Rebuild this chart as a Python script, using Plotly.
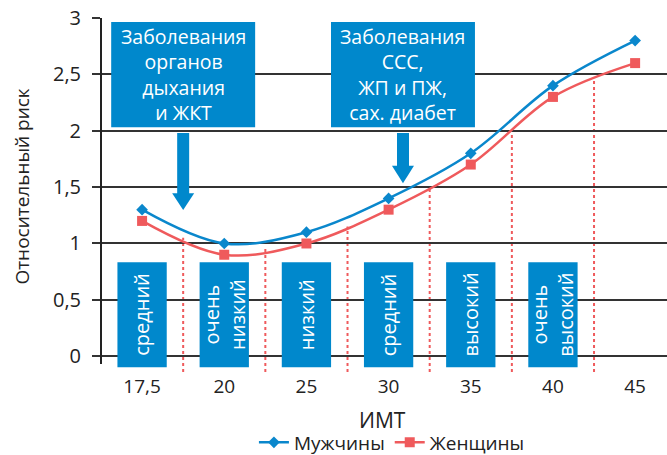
import plotly.graph_objects as go

# ---- data ----
bmi_labels = ["17,5", "20", "25", "30", "35", "40", "45"]
men_risk = [1.3, 1.0, 1.1, 1.4, 1.8, 2.4, 2.8]
women_risk = [1.2, 0.9, 1.0, 1.3, 1.7, 2.3, 2.6]
risk_levels = ["средний", "очень<br>низкий", "низкий", "средний", "высокий", "очень<br>высокий"]
top_notes = ["Заболевания<br>органов<br>дыхания<br>и ЖКТ", "Заболевания<br>ССС,<br>ЖП и ПЖ,<br>сах. диабет"]
series_names = ["Мужчины", "Женщины"]
y_ticks = [0, 0.5, 1, 1.5, 2, 2.5, 3]

BLUE = "#0a87cc"
RED = "#ef5a5c"
BOX = "#0088cc"
TXT = "#222222"
FONT = "Open Sans"

xs = list(range(len(bmi_labels)))

fig = go.Figure()
fig.add_trace(go.Scatter(
    x=xs, y=men_risk, name=series_names[0], mode="lines+markers",
    line=dict(color=BLUE, width=2.5, shape="spline", smoothing=1),
    marker=dict(symbol="diamond", size=9, color=BLUE),
))
fig.add_trace(go.Scatter(
    x=xs, y=women_risk, name=series_names[1], mode="lines+markers",
    line=dict(color=RED, width=2.5, shape="spline", smoothing=1),
    marker=dict(symbol="square", size=10, color=RED),
))

shapes = []
annotations = []

# y axis line
shapes.append(dict(type="line", xref="paper", yref="y", x0=0, x1=0, y0=-0.07, y1=3,
                   line=dict(color=TXT, width=2)))

# dotted boundaries between categories
for i in range(len(bmi_labels) - 1):
    top = (women_risk[i] + women_risk[i + 1]) / 2
    shapes.append(dict(type="line", xref="x", yref="y", x0=i + 0.5, x1=i + 0.5,
                       y0=-0.14, y1=top, layer="below",
                       line=dict(color=RED, width=2, dash="dot")))

# bottom level boxes
for i, lab in enumerate(risk_levels):
    shapes.append(dict(type="rect", xref="x", yref="y", x0=i - 0.3, x1=i + 0.3,
                       y0=-0.098, y1=0.834, fillcolor=BOX, line=dict(width=0)))
    annotations.append(dict(x=i, y=0.368, xref="x", yref="y", text=lab, textangle=-90,
                            showarrow=False, font=dict(color="white", size=20, family=FONT)))

# top boxes with arrows
top_centers = [0.5, 3.175]
arrow_tips = [1.296, 1.535]
arrow_bases = [1.446, 1.69]
for c, note, tip, base in zip(top_centers, top_notes, arrow_tips, arrow_bases):
    shapes.append(dict(type="rect", xref="x", yref="y", x0=c - 0.876, x1=c + 0.876,
                       y0=2.032, y1=2.964, fillcolor=BOX, line=dict(width=0)))
    annotations.append(dict(x=c, y=2.498, xref="x", yref="y", text=note, showarrow=False,
                            font=dict(color="white", size=19.5, family=FONT)))
    shapes.append(dict(type="rect", xref="x", yref="y", x0=c - 0.073, x1=c + 0.073,
                       y0=base - 0.01, y1=1.98, fillcolor=BOX, line=dict(width=0)))
    shapes.append(dict(type="path", xref="x", yref="y",
                       path=f"M {c-0.134},{base} L {c+0.134},{base} L {c},{tip} Z",
                       fillcolor=BOX, line=dict(width=0)))

# axis titles
annotations.append(dict(x=-0.14, y=0.523, xref="paper", yref="paper", text="Относительный риск",
                        textangle=-90, showarrow=False, xanchor="center", yanchor="middle",
                        font=dict(color=TXT, size=19, family=FONT)))
annotations.append(dict(x=0.498, y=-0.135, xref="paper", yref="paper", text="ИМТ",
                        showarrow=False, xanchor="center", yanchor="middle",
                        font=dict(color=TXT, size=21, family=FONT)))

fig.update_layout(
    width=667, height=455,
    margin=dict(l=101, r=0, t=18, b=83, autoexpand=False),
    paper_bgcolor="white", plot_bgcolor="white",
    separators=", ",
    font=dict(family=FONT, color=TXT, size=18),
    shapes=shapes, annotations=annotations,
    showlegend=True,
    legend=dict(orientation="h", x=0.514, y=-0.199, xanchor="center", yanchor="middle",
                font=dict(size=19, color=TXT, family=FONT), itemwidth=30),
    xaxis=dict(range=[-0.5, 6.388], tickvals=xs, ticktext=bmi_labels, showgrid=False,
               zeroline=False, showline=False, ticks="", ticklabelstandoff=1,
               tickfont=dict(size=19, color=TXT, family=FONT)),
    yaxis=dict(range=[-0.14, 3.0], tickvals=y_ticks, showgrid=True, gridcolor="#333333",
               gridwidth=1.5, zeroline=False, showline=False, ticks="outside", ticklen=8,
               tickwidth=1.5, tickcolor="#333333", tickformat=".1~f", ticklabelstandoff=7,
               tickfont=dict(size=20, color=TXT, family=FONT)),
)

fig.write_html("out.html", config={"displayModeBar": False},
               post_script="document.body.style.margin='0';")
